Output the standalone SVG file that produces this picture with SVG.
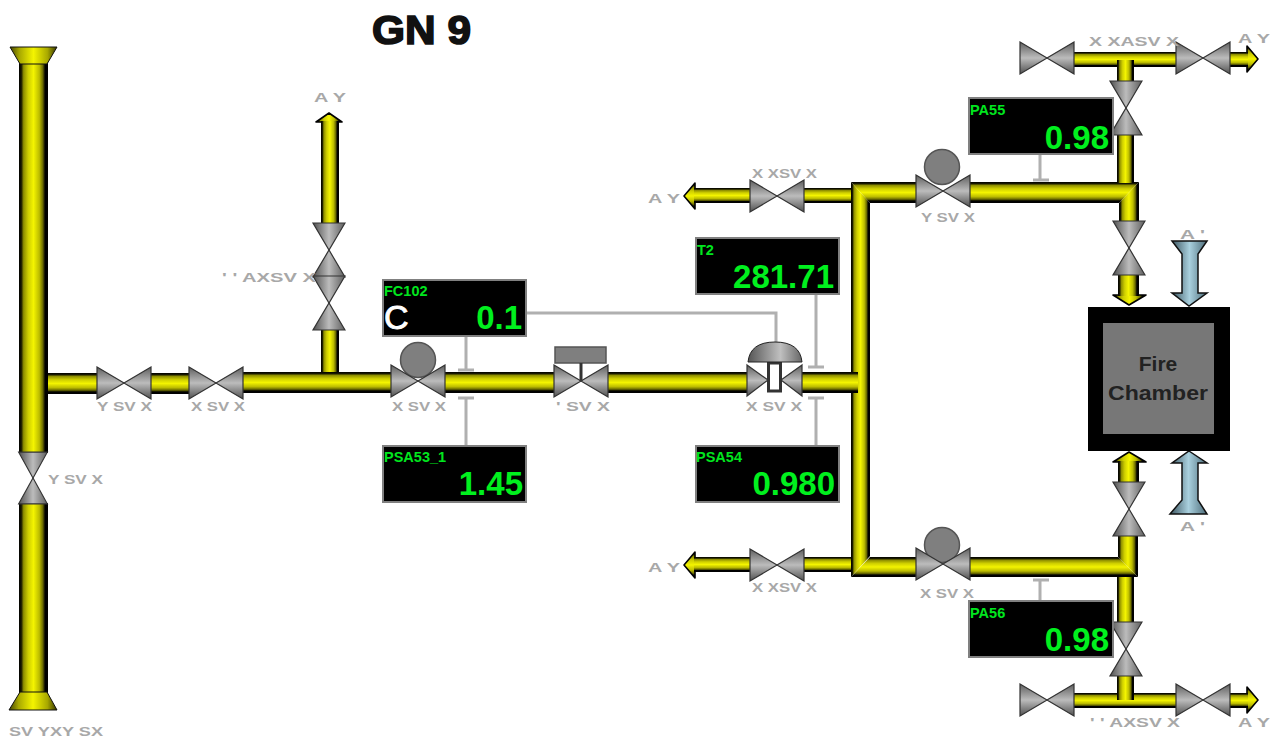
<svg xmlns="http://www.w3.org/2000/svg" width="1271" height="740" viewBox="0 0 1271 740">
<style>
text{font-family:"Liberation Sans",Arial,sans-serif}
.ph{fill:url(#pipeH)}
.pv{fill:url(#pipeV)}
.hd{stroke:#000;stroke-width:1.6;stroke-linejoin:round}
.box{fill:#000;stroke:#808080;stroke-width:2}
.nm{fill:#00e61e;font-size:14.5px;font-weight:bold}
.val{fill:#00f01e;font-size:33px;font-weight:bold;text-anchor:end}
.lab{fill:#a8a8a8;font-size:13px;font-weight:bold}
.sig{fill:none;stroke:#b0b0b0;stroke-width:3}
.act{fill:#7f7f7f;stroke:#555;stroke-width:1.5}
</style>
<defs>
<linearGradient id="pipeH" x1="0" y1="0" x2="0" y2="1">
<stop offset="0" stop-color="#000"/><stop offset=".08" stop-color="#1a1a00"/><stop offset=".16" stop-color="#8f8f00"/><stop offset=".32" stop-color="#cfcf00"/><stop offset=".5" stop-color="#f4f400"/><stop offset=".7" stop-color="#bcbc00"/><stop offset=".82" stop-color="#6a6a00"/><stop offset=".9" stop-color="#000"/><stop offset="1" stop-color="#000"/>
</linearGradient>
<linearGradient id="pipeV" x1="0" y1="0" x2="1" y2="0">
<stop offset="0" stop-color="#000"/><stop offset=".08" stop-color="#1a1a00"/><stop offset=".16" stop-color="#8f8f00"/><stop offset=".32" stop-color="#cfcf00"/><stop offset=".5" stop-color="#f4f400"/><stop offset=".7" stop-color="#bcbc00"/><stop offset=".82" stop-color="#6a6a00"/><stop offset=".9" stop-color="#000"/><stop offset="1" stop-color="#000"/>
</linearGradient>
<linearGradient id="funnel" x1="0" y1="0" x2="1" y2="0">
<stop offset="0" stop-color="#444400"/><stop offset=".2" stop-color="#a8a800"/><stop offset=".5" stop-color="#f4f400"/><stop offset=".8" stop-color="#a8a800"/><stop offset="1" stop-color="#333300"/>
</linearGradient>
<linearGradient id="gray" x1="0" y1="0" x2="0" y2="1">
<stop offset="0" stop-color="#5e5e5e"/><stop offset=".5" stop-color="#bcbcbc"/><stop offset="1" stop-color="#505050"/>
</linearGradient>
<linearGradient id="blue" x1="0" y1="0" x2="1" y2="0">
<stop offset="0" stop-color="#3c5560"/><stop offset=".5" stop-color="#a9d0de"/><stop offset="1" stop-color="#4c6b78"/>
</linearGradient>
<linearGradient id="dome" x1="0" y1="0" x2="1" y2="0">
<stop offset="0" stop-color="#555"/><stop offset=".6" stop-color="#c0c0c0"/><stop offset="1" stop-color="#666"/>
</linearGradient>
<g id="valve">
<polygon points="-27,-16 0,0 -27,16" fill="url(#gray)" stroke="#333" stroke-width="1.2"/>
<polygon points="27,-16 0,0 27,16" fill="url(#gray)" stroke="#333" stroke-width="1.2"/>
</g>
</defs>
<rect width="1271" height="740" fill="#fff"/>
<text id="title" x="372" y="44" font-size="40" font-weight="bold" fill="#111" stroke="#111" stroke-width="1.6" textLength="99" lengthAdjust="spacingAndGlyphs">GN 9</text>

<g id="connectors">
<path class="sig" d="M527,313H776V342"/>
<path class="sig" d="M466,337V370M458,370H474"/>
<path class="sig" d="M466,445V398M458,398H474"/>
<path class="sig" d="M816,295V367M808,367H824"/>
<path class="sig" d="M816,445V398M808,398H824"/>
<path class="sig" d="M1040,155V180M1033,180H1049"/>
<path class="sig" d="M1040,600V580M1033,580H1049"/>
</g>

<g id="pipes">
<rect class="ph" x="44" y="373" width="56" height="21"/>
<rect class="ph" x="150" y="373" width="42" height="21"/>
<polygon points="329,113 342,122 316,122" class="pv hd"/>
<rect class="pv" x="321" y="121" width="18" height="104"/>
<rect class="pv" x="321" y="328" width="18" height="46"/>
<rect class="ph" x="242" y="372" width="152" height="21"/>
<rect class="ph" x="444" y="372" width="111" height="21"/>
<rect class="ph" x="607" y="372" width="142" height="21"/>
<rect class="pv" x="19" y="60" width="29" height="393"/>
<rect class="pv" x="19" y="503" width="29" height="192"/>
<polygon points="10,47 57,47 47,64 20,64" fill="url(#funnel)" stroke="#111" stroke-width="1"/>
<polygon points="20,692 47,692 57,710 9,710" fill="url(#funnel)" stroke="#111" stroke-width="1"/>
<polygon points="684,196 695,183 695,209" class="ph hd"/>
<rect class="ph" x="694" y="188" width="58" height="15"/>
<rect class="ph" x="802" y="188" width="51" height="15"/>
<polygon points="684,565 695,552 695,578" class="ph hd"/>
<rect class="ph" x="694" y="557" width="58" height="15"/>
<rect class="ph" x="802" y="557" width="51" height="15"/>
<polygon class="pv" points="851,182 870,203 870,556 851,577"/>
<polygon class="ph" points="851,182 918,182 918,203 870,203"/>
<polygon class="ph" points="968,182 1139,182 1119,203 968,203"/>
<polygon class="ph" points="870,557 918,557 918,577 851,577"/>
<polygon class="ph" points="968,557 1118,557 1138,577 968,577"/>
<rect class="ph" x="800" y="372" width="58" height="21"/>
<polygon class="pv" points="1119,203 1139,182 1139,224 1119,224"/>
<polygon class="pv" points="1118,557 1138,577 1138,533 1118,533"/>
<rect class="pv" x="1117" y="133" width="17" height="50"/>
<rect class="pv" x="1117" y="577" width="17" height="48"/>
<rect class="ph" x="1072" y="52" width="106" height="15"/>
<rect class="pv" x="1117" y="60" width="17" height="23"/>
<rect class="ph" x="1072" y="693" width="106" height="15"/>
<rect class="pv" x="1117" y="674" width="17" height="26"/>
<polygon points="1258,59 1247,46 1247,72" class="ph hd"/>
<rect class="ph" x="1229" y="52" width="19" height="15"/>
<polygon points="1258,700 1247,687 1247,713" class="ph hd"/>
<rect class="ph" x="1229" y="693" width="19" height="15"/>
<polygon points="1129,305 1146,295 1113,295" class="pv hd"/>
<rect class="pv" x="1118" y="273" width="21" height="23"/>
<polygon points="1129,452 1146,462 1113,462" class="pv hd"/>
<rect class="pv" x="1118" y="461" width="21" height="24"/>
</g>

<g id="valve-main"><use href="#valve" transform="translate(33,478) rotate(90) scale(.96,.9)"/><text class="lab" x="48" y="484" textLength="55" lengthAdjust="spacingAndGlyphs">Y SV X</text></g>
<g id="valve-1"><use href="#valve" transform="translate(124,383)"/><text class="lab" x="97" y="411" textLength="55" lengthAdjust="spacingAndGlyphs">Y SV X</text></g>
<g id="valve-2"><use href="#valve" transform="translate(216,383)"/><text class="lab" x="191" y="411" textLength="54" lengthAdjust="spacingAndGlyphs">X SV X</text></g>
<g id="valve-up-1"><use href="#valve" transform="translate(329,250) rotate(90)"/></g>
<g id="valve-up-2"><use href="#valve" transform="translate(329,303) rotate(90)"/><text class="lab" x="222" y="282" textLength="94" lengthAdjust="spacingAndGlyphs">' ' AXSV X</text></g>
<text class="lab" x="314" y="102" textLength="32" lengthAdjust="spacingAndGlyphs">A Y</text>
<text class="lab" x="9" y="736" textLength="94" lengthAdjust="spacingAndGlyphs">SV YXY SX</text>

<g id="valve-3"><circle class="act" cx="418" cy="360" r="17.5"/><use href="#valve" transform="translate(418,381)"/><text class="lab" x="392" y="411" textLength="54" lengthAdjust="spacingAndGlyphs">X SV X</text></g>
<g id="valve-4"><rect class="act" x="555" y="347" width="51" height="16"/><use href="#valve" transform="translate(581,381)"/><path d="M581,363V381" stroke="#333" stroke-width="3"/><text class="lab" x="556" y="411" textLength="54" lengthAdjust="spacingAndGlyphs">' SV X</text></g>
<g id="valve-5">
<polygon points="747,365 768,380 747,396" fill="url(#gray)" stroke="#333" stroke-width="1.2"/>
<polygon points="802,365 781,380 802,396" fill="url(#gray)" stroke="#333" stroke-width="1.2"/>
<rect x="768.500" y="363" width="12" height="28" fill="#fff" stroke="#333" stroke-width="3"/>
<path d="M748,362Q750,342 775,342Q800,342 802,362Z" fill="url(#dome)" stroke="#222" stroke-width="1"/>
<text class="lab" x="746" y="411" textLength="56" lengthAdjust="spacingAndGlyphs">X SV X</text>
</g>

<g id="valve-top-left"><use href="#valve" transform="translate(777,196)"/><text class="lab" x="752" y="178" textLength="65" lengthAdjust="spacingAndGlyphs">X XSV X</text></g>
<text class="lab" x="648" y="203" textLength="32" lengthAdjust="spacingAndGlyphs">A Y</text>
<g id="valve-top-right"><circle class="act" cx="942" cy="167" r="17.5"/><use href="#valve" transform="translate(943,191)"/><text class="lab" x="921" y="222" textLength="54" lengthAdjust="spacingAndGlyphs">Y SV X</text></g>
<g id="valve-bot-left"><use href="#valve" transform="translate(777,565)"/><text class="lab" x="752" y="592" textLength="65" lengthAdjust="spacingAndGlyphs">X XSV X</text></g>
<text class="lab" x="648" y="572" textLength="32" lengthAdjust="spacingAndGlyphs">A Y</text>
<g id="valve-bot-right"><circle class="act" cx="942" cy="545" r="17.5"/><use href="#valve" transform="translate(943,564)"/><text class="lab" x="920" y="598" textLength="54" lengthAdjust="spacingAndGlyphs">X SV X</text></g>

<g id="valve-tr-a"><use href="#valve" transform="translate(1047,58)"/></g>
<g id="valve-tr-b"><use href="#valve" transform="translate(1203,58)"/></g>
<text class="lab" x="1089" y="46" textLength="90" lengthAdjust="spacingAndGlyphs">X XASV X</text>
<text class="lab" x="1238" y="43" textLength="32" lengthAdjust="spacingAndGlyphs">A Y</text>
<g id="valve-tr-c"><use href="#valve" transform="translate(1126,108) rotate(90)"/></g>
<g id="valve-tr-d"><use href="#valve" transform="translate(1129,248) rotate(90)"/></g>
<g id="valve-br-d"><use href="#valve" transform="translate(1129,509) rotate(90)"/></g>
<g id="valve-br-c"><use href="#valve" transform="translate(1126,649) rotate(90)"/></g>
<g id="valve-br-a"><use href="#valve" transform="translate(1047,700)"/></g>
<g id="valve-br-b"><use href="#valve" transform="translate(1203,700)"/></g>
<text class="lab" x="1090" y="727" textLength="90" lengthAdjust="spacingAndGlyphs">' ' AXSV X</text>
<text class="lab" x="1238" y="727" textLength="32" lengthAdjust="spacingAndGlyphs">A Y</text>

<g id="air-top"><polygon points="1172,241 1207,241 1198,254 1198,293 1207,293 1189,306 1172,293 1182,293 1182,254" fill="url(#blue)" stroke="#111" stroke-width="1.5"/><text class="lab" x="1180" y="239" textLength="25" lengthAdjust="spacingAndGlyphs">A '</text></g>
<g id="air-bottom"><polygon points="1189,451 1207,463 1198,463 1198,500 1207,514 1170,514 1182,500 1182,463 1172,463" fill="url(#blue)" stroke="#111" stroke-width="1.5"/><text class="lab" x="1180" y="531" textLength="25" lengthAdjust="spacingAndGlyphs">A '</text></g>

<g id="fire-chamber">
<rect x="1088" y="307" width="142" height="144" fill="#000"/>
<rect x="1103" y="323" width="111" height="111" fill="#777"/>
<text x="1158" y="371" font-size="21" font-weight="bold" fill="#222" text-anchor="middle">Fire</text>
<text x="1158" y="400" font-size="21" font-weight="bold" fill="#222" text-anchor="middle" textLength="100" lengthAdjust="spacingAndGlyphs">Chamber</text>
</g>

<g id="FC102"><rect class="box" x="383" y="280" width="143" height="56"/><text class="nm" x="384" y="296">FC102</text><text x="384" y="329" font-size="34" fill="#fff" stroke="#fff" stroke-width=".9">C</text><text class="val" x="522" y="329">0.1</text></g>
<g id="T2"><rect class="box" x="696" y="238" width="143" height="56"/><text class="nm" x="697" y="255">T2</text><text class="val" x="834" y="288">281.71</text></g>
<g id="PSA53_1"><rect class="box" x="383" y="446" width="143" height="56"/><text class="nm" x="384" y="462">PSA53_1</text><text class="val" x="523" y="495">1.45</text></g>
<g id="PSA54"><rect class="box" x="696" y="446" width="143" height="56"/><text class="nm" x="696" y="462">PSA54</text><text class="val" x="835" y="495">0.980</text></g>
<g id="PA55"><rect class="box" x="969" y="98" width="144" height="56"/><text class="nm" x="970" y="115">PA55</text><text class="val" x="1109" y="149">0.98</text></g>
<g id="PA56"><rect class="box" x="969" y="601" width="144" height="56"/><text class="nm" x="970" y="618">PA56</text><text class="val" x="1109" y="651">0.98</text></g>
</svg>
